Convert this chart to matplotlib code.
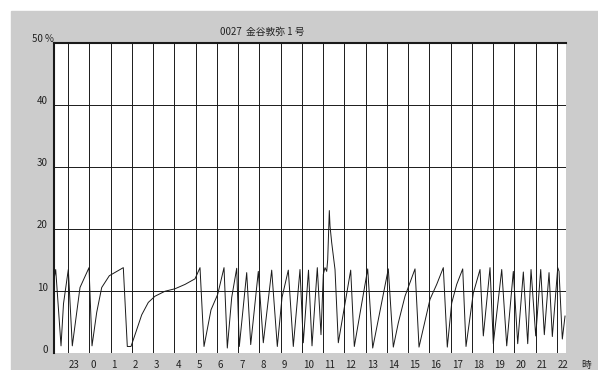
import numpy as np
import matplotlib.pyplot as plt
from matplotlib.patches import Rectangle

plt.rcParams['font.family'] = ['Noto Sans CJK JP', 'DejaVu Sans']

# time in hours (23 = 23:00, 24 = 0:00 next day ... 46 = 22:00)
hours = [22.341, 22.421, 22.671, 22.788, 23.014, 23.202, 23.564, 23.988,
         24.129, 24.350, 24.585, 24.943, 25.601, 25.789, 25.963, 26.152,
         26.467, 26.777, 27.092, 27.563, 28.033, 28.503, 28.974, 29.209,
         29.397, 29.726, 30.041, 30.338, 30.493, 30.700, 30.935, 31.057,
         31.405, 31.594, 31.951, 32.186, 32.581, 32.845, 33.066, 33.362,
         33.597, 33.912, 34.067, 34.312, 34.477, 34.726, 34.900, 35.008,
         35.088, 35.168, 35.215, 35.291, 35.324, 35.404, 35.559, 35.714,
         36.297, 36.467, 37.097, 37.332, 38.066, 38.301, 38.536, 38.851,
         39.322, 39.510, 40.027, 40.342, 40.653, 40.841, 41.048, 41.283,
         41.566, 41.721, 42.064, 42.380, 42.535, 42.850, 43.005, 43.401,
         43.636, 43.946, 44.153, 44.417, 44.624, 44.779, 45.000, 45.235,
         45.404, 45.626, 45.781, 46.035, 46.096, 46.251, 46.378]
load = [11.9, 13.5, 1.2, 8.0, 13.5, 1.2, 10.6, 13.8,
        1.2, 6.6, 10.6, 12.5, 13.8, 1.1, 1.1, 3.0,
        6.2, 8.2, 9.2, 10.0, 10.4, 11.1, 12.0, 13.8,
        1.1, 7.0, 9.5, 13.8, 0.85, 9.0, 13.7, 1.1,
        13.0, 1.4, 13.2, 1.7, 13.4, 1.1, 9.0, 13.4,
        1.1, 13.5, 1.7, 13.4, 1.2, 13.8, 3.0, 12.7,
        13.8, 13.2, 15.1, 23.0, 20.5, 17.8, 13.5, 1.7,
        13.4, 1.1, 13.6, 0.85, 13.6, 1.0, 4.9, 9.2,
        13.6, 1.0, 8.7, 11.1, 13.8, 1.0, 8.1, 11.1,
        13.6, 1.1, 9.7, 13.5, 2.8, 13.8, 1.55, 13.5,
        1.2, 13.2, 1.55, 13.1, 1.55, 13.5, 2.8, 13.5,
        3.0, 13.0, 2.7, 13.8, 13.2, 2.3, 6.0]

hour_ticks = list(range(23, 47))
hour_labels = [str(h % 24) for h in hour_ticks]
y_ticks = [0, 10, 20, 30, 40, 50]
y_labels = ['0', '10', '20', '30', '40', '50 %']
title = '0027  金谷敦弥 1 号'

W, H = 598, 370
fig = plt.figure(figsize=(W / 100, H / 100), dpi=100, facecolor='white')
# gray panel (white strip at top and left)
fig.patches.append(Rectangle((11 / W, 0), 1 - 11 / W, (H - 11) / H,
                             transform=fig.transFigure, color='#cccccc', zorder=-5))

ax = fig.add_axes([54 / W, (H - 353.3) / H, 512 / W, (353.3 - 43) / H])
ax.set_zorder(2)
ax.set_facecolor('white')
ax.set_xlim(22.341, 46.424)
ax.set_ylim(0, 50)

for h in hour_ticks:
    ax.axvline(h, color='#1a1a1a', lw=0.7, zorder=1)
for v in y_ticks[1:-1]:
    ax.axhline(v, color='#1a1a1a', lw=0.7, zorder=1)

ax.plot(hours, load, color='#1a1a1a', lw=0.7, zorder=2)

for s in ['bottom', 'right']:
    ax.spines[s].set_visible(False)
for s in ['left', 'top']:
    ax.spines[s].set_linewidth(1.5)
    ax.spines[s].set_color('#1a1a1a')
ax.set_xticks([])
ax.set_yticks([])

# y labels, a bit above the lines
ytr = ax.get_yaxis_transform()
for v, lab in zip(y_ticks, y_labels):
    if lab.endswith('%'):
        ax.text(-22 / 512, v + 0.6, lab, transform=ytr, ha='left', va='center',
                fontsize=7, color='#222222', clip_on=False)
    else:
        ax.text(-6 / 512, v + 0.6, lab, transform=ytr, ha='right', va='center',
                fontsize=7, color='#222222', clip_on=False)

# hour labels, left aligned at the lines
xtr = ax.get_xaxis_transform()
for h, lab in zip(hour_ticks, hour_labels):
    ax.text(h + 0.05, -0.038, lab, transform=xtr, ha='left', va='center',
            fontsize=7, color='#222222', clip_on=False)

fig.text(581 / W, 1 - 365 / H, '時', ha='left', va='center', fontsize=7, color='#222222')
fig.text(220 / W, 1 - 32 / H, title, ha='left', va='center', fontsize=7, color='#222222')

fig.savefig('out.png', dpi=100, facecolor=fig.get_facecolor())
